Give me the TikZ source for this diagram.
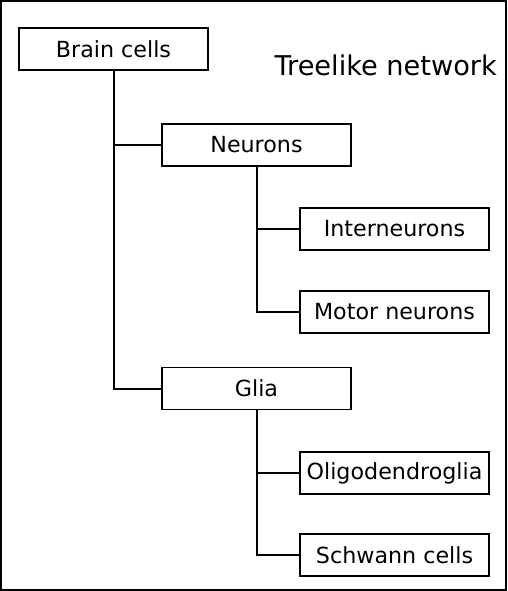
\documentclass[tikz,border=0pt]{standalone}
\usepackage{fontspec}
\setmainfont{DejaVu Sans}
\begin{document}
\begin{tikzpicture}[x=1pt, y=-1pt,
  box/.style={draw, line width=1.8pt, minimum width=189pt, minimum height=42pt, inner sep=0pt, font=\fontsize{22.2}{26}\selectfont},
  link/.style={line width=2pt}]
  \useasboundingbox (0,0) rectangle (507,591);
  % frame
  \draw [line width=2.2pt] (1,1) rectangle (506,590);
  \node [anchor=base west, font=\fontsize{27.2}{32}\selectfont] (title) at (271,76) {Treelike network};
  % boxes
  \node [box] (brain) at (113.5,49) {Brain cells};
  \node [box] (neurons) at (256.5,145) {Neurons};
  \node [box] (glia) at (256.5,388.5) {Glia};
  \node [box] (inter) at (394.5,229) {Interneurons};
  \node [box] (motor) at (394.5,312) {Motor neurons};
  \node [box] (oligo) at (394.5,473) {Oligodendroglia};
  \node [box] (schwann) at (394.5,555) {Schwann cells};
  % links
  \foreach \a/\b in {brain/neurons, brain/glia, neurons/inter, neurons/motor, glia/oligo, glia/schwann} {
    \draw [link] (\a) |- (\b);
  };
\end{tikzpicture}
\end{document}
